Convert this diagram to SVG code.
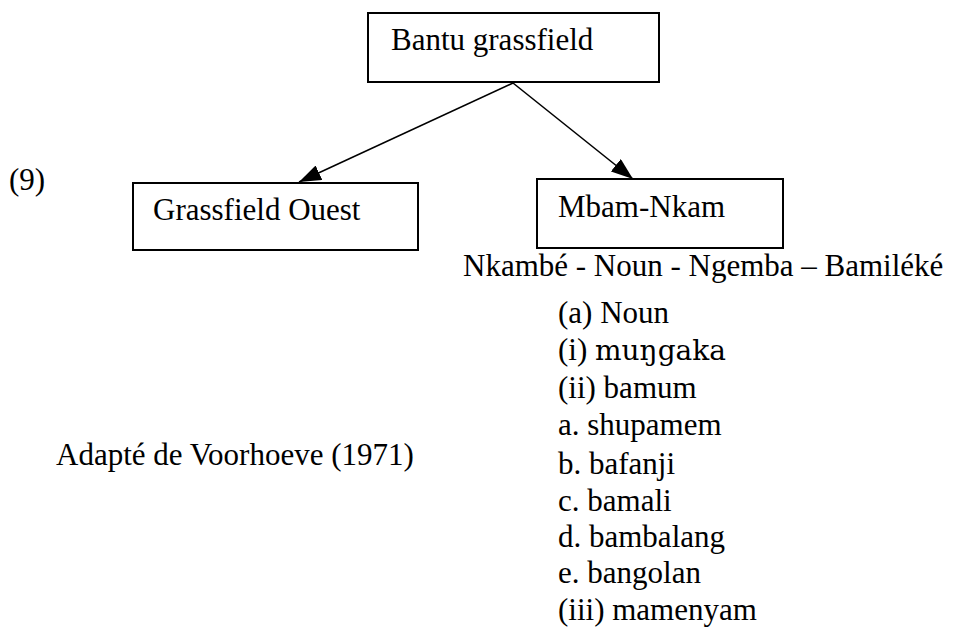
<svg xmlns="http://www.w3.org/2000/svg" width="959" height="628" viewBox="0 0 959 628">
  <style>
    .box { fill: #ffffff; stroke: #000000; stroke-width: 2; }
    .lbl { font-family: "Liberation Serif", "Times New Roman", serif; font-size: 31px; fill: #000000; }
    .ipa { font-family: "DejaVu Serif", "Liberation Serif", serif; font-size: 28px; }
    .edge { stroke: #000000; stroke-width: 1.6; fill: none; marker-end: url(#arrow); }
  </style>
  <defs>
    <!-- solid triangular arrowhead used by both tree edges -->
    <marker id="arrow" viewBox="0 0 22 16" refX="22" refY="8" markerWidth="22" markerHeight="16" markerUnits="userSpaceOnUse" orient="auto">
      <path d="M0,0 L22,8 L0,16 z" fill="#000000"/>
    </marker>
  </defs>
  <rect width="959" height="628" fill="#ffffff"/>

  <!-- tree edges -->
  <g id="connectors">
    <line class="edge" x1="513" y1="83" x2="299" y2="182"/>
    <line class="edge" x1="513" y1="83" x2="633" y2="179"/>
  </g>

  <g id="bantu-grassfield">
    <rect class="box" x="368" y="13" width="291" height="69"/>
    <text class="lbl" x="391" y="50">Bantu grassfield</text>
  </g>

  <g id="grassfield-ouest">
    <rect class="box" x="133" y="183" width="285" height="67"/>
    <text class="lbl" x="153" y="220">Grassfield Ouest</text>
  </g>

  <g id="mbam-nkam">
    <rect class="box" x="537" y="179" width="246" height="69"/>
    <text class="lbl" x="558" y="217">Mbam-Nkam</text>
  </g>

  <!-- example number and source -->
  <text class="lbl" x="9" y="190">(9)</text>
  <text class="lbl" x="56" y="465">Adapté de Voorhoeve (1971)</text>

  <!-- Mbam-Nkam subdivisions -->
  <g id="subgroups">
    <text class="lbl" x="463" y="276">Nkambé - Noun - Ngemba – Bamiléké</text>
    <text class="lbl" x="558" y="323">(a) Noun</text>
    <text class="lbl" x="558" y="360">(i) <tspan class="ipa">muŋgaka</tspan></text>
    <text class="lbl" x="558" y="398">(ii) bamum</text>
    <text class="lbl" x="558" y="435">a. shupamem</text>
    <text class="lbl" x="558" y="474">b. bafanji</text>
    <text class="lbl" x="558" y="511">c. bamali</text>
    <text class="lbl" x="558" y="547">d. bambalang</text>
    <text class="lbl" x="558" y="583">e. bangolan</text>
    <text class="lbl" x="558" y="620">(iii) mamenyam</text>
  </g>
</svg>
